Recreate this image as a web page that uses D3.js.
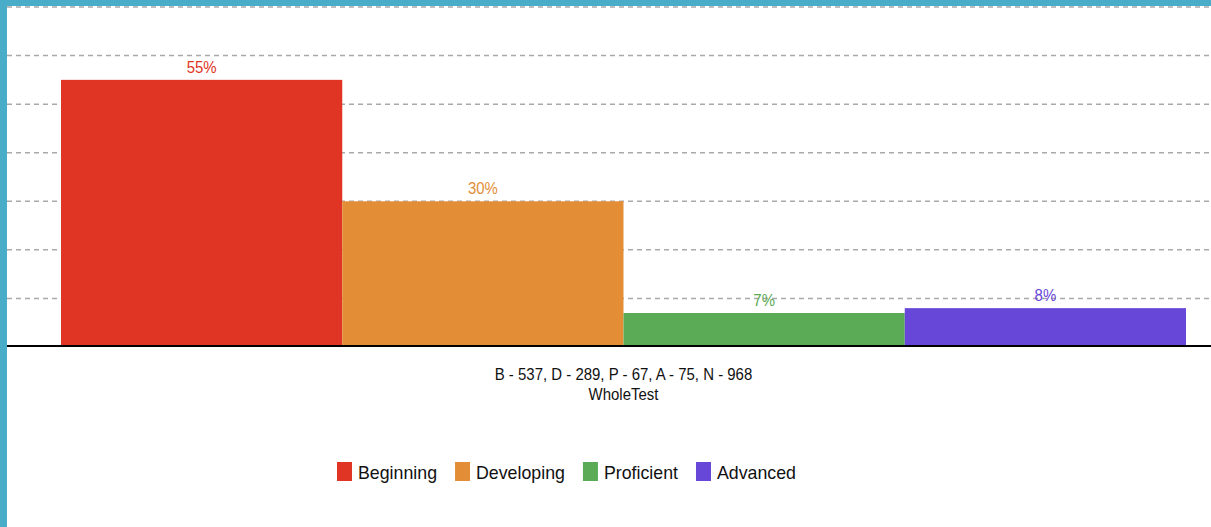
<!DOCTYPE html>
<html>
<head>
<meta charset="utf-8">
<script src="https://cdn.jsdelivr.net/npm/d3@7"></script>
<style>
  html, body { margin: 0; padding: 0; background: #fff; }
  svg { display: block; }
  text { font-family: "Liberation Sans", Arial, Helvetica, sans-serif; }
</style>
</head>
<body>
<svg id="chart" width="1211" height="527"></svg>
<script>
const categories = ["Beginning", "Developing", "Proficient", "Advanced"];
const percentValues = [55, 30, 7, 8];
const percentLabels = ["55%", "30%", "7%", "8%"];
const barColors = ["#e03424", "#e38e37", "#5aaa56", "#6747d8"];
const gridTicks = [10, 20, 30, 40, 50, 60, 70];
const axisLabelLines = ["B - 537, D - 289, P - 67, A - 75, N - 968", "WholeTest"];

const W = 1211, H = 527;
const squeeze = 0.935;
const svg = d3.select("#chart");

const x = d3.scaleBand().domain(categories).range([61, 1186]).padding(0);
const y = d3.scaleLinear().domain([0, 70]).range([347, 7]);

function narrow(sel) {
  sel.each(function () {
    const len = this.getComputedTextLength();
    d3.select(this).attr("textLength", len * squeeze).attr("lengthAdjust", "spacingAndGlyphs");
  });
}

// gridlines
svg.append("g").selectAll("line").data(gridTicks).join("line")
  .attr("x1", 7).attr("x2", W)
  .attr("y1", d => y(d)).attr("y2", d => y(d))
  .attr("stroke", "#a9a9a9").attr("stroke-width", 1.5)
  .attr("stroke-dasharray", "5,4");

// bars
svg.append("g").selectAll("rect").data(categories).join("rect")
  .attr("x", d => x(d))
  .attr("width", x.bandwidth())
  .attr("y", (d, i) => y(percentValues[i]))
  .attr("height", (d, i) => y(0) - y(percentValues[i]))
  .attr("fill", (d, i) => barColors[i]);

// value labels
svg.append("g").selectAll("text").data(categories).join("text")
  .attr("x", d => x(d) + x.bandwidth() / 2)
  .attr("y", (d, i) => y(percentValues[i]) - 7)
  .attr("text-anchor", "middle")
  .attr("font-size", 16)
  .attr("fill", (d, i) => barColors[i])
  .text((d, i) => percentLabels[i])
  .call(narrow);

// baseline
svg.append("line")
  .attr("x1", 7).attr("x2", W)
  .attr("y1", 346).attr("y2", 346)
  .attr("stroke", "#000").attr("stroke-width", 2);

// axis labels
const cx = (x.range()[0] + x.range()[1]) / 2;
svg.append("g").selectAll("text").data(axisLabelLines).join("text")
  .attr("x", cx)
  .attr("y", (d, i) => 380 + i * 20)
  .attr("text-anchor", "middle")
  .attr("font-size", 16)
  .attr("fill", "#111")
  .text(d => d)
  .call(narrow);

// legend
const legend = svg.append("g");
let lx = 337;
categories.forEach((c, i) => {
  legend.append("rect")
    .attr("x", lx).attr("y", 462)
    .attr("width", 15).attr("height", 19)
    .attr("fill", barColors[i]);
  const t = legend.append("text")
    .attr("x", lx + 21).attr("y", 478.5)
    .attr("font-size", 19)
    .attr("fill", "#111")
    .text(c)
    .call(narrow);
  const w = +t.attr("textLength");
  lx = lx + 21 + w + 18;
});

// border
svg.append("rect").attr("x", 0).attr("y", 0).attr("width", 7).attr("height", H).attr("fill", "#49acc9");
svg.append("rect").attr("x", 0).attr("y", 0).attr("width", W).attr("height", 6).attr("fill", "#49acc9");
</script>
</body>
</html>
